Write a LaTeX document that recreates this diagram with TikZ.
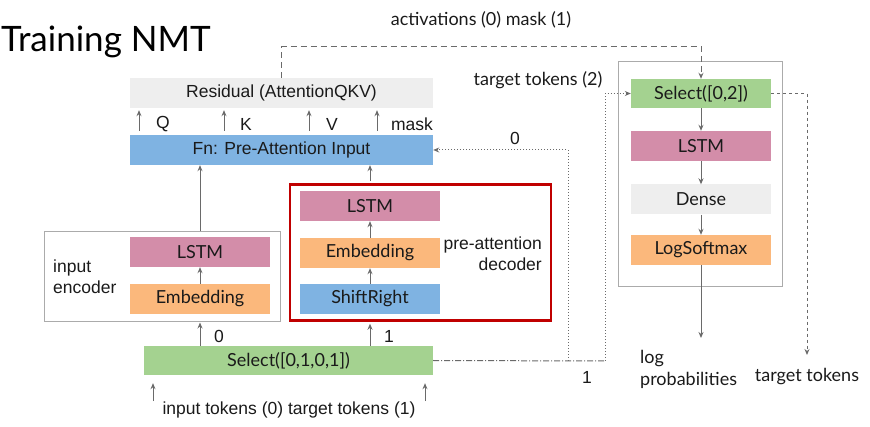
\documentclass[tikz,border=0pt]{standalone}
\usepackage{fontspec}
\setmainfont{Lato}
\newfontfamily\ar{Liberation Sans}
\usetikzlibrary{arrows.meta,calc}
\definecolor{cgray}{HTML}{EEEEEE}
\definecolor{cblue}{HTML}{7FB3E2}
\definecolor{cpink}{HTML}{D38DA9}
\definecolor{corange}{HTML}{FBB87C}
\definecolor{cgreen}{HTML}{A4D290}
\definecolor{cred}{HTML}{C00000}
\definecolor{cline}{HTML}{6A6A6A}
\definecolor{ctext}{HTML}{1A1A1A}
\newcommand\arf{\ar\fontsize{17.5}{21}\selectfont}
\newcommand\laf{\fontsize{18}{22}\selectfont}
\tikzset{
  blk/.style={minimum width=140pt,minimum height=30pt,inner sep=0pt,text=ctext,font=\laf},
  wide/.style={blk,minimum width=303pt},
  frame/.style={draw=black!33,line width=1pt,inner sep=0pt},
  arr/.style={draw=cline,line width=1pt,-{Stealth[length=6pt,width=5pt]}},
  lbl/.style={text=ctext,inner sep=0pt,font=\laf},
  albl/.style={text=ctext,inner sep=0pt,font=\arf},
}
\begin{document}
\begin{tikzpicture}[x=1pt,y=1pt]
\useasboundingbox (0,0) rectangle (870,-427);
% title
\node[anchor=west,text=black,inner sep=0pt,font=\fontsize{35}{40}\selectfont] (title) at (1,-42) {Training NMT};
% attention part
\node[wide,fill=cgray,font=\arf] (res) at (281.5,-93) {Residual (AttentionQKV)};
\node[wide,fill=cblue,font=\arf] (fn) at (281.5,-150) {Fn: Pre-Attention Input};
\coordinate (qx) at (139,0);
\coordinate (kx) at (224,0);
\coordinate (vx) at (309,0);
\coordinate (mx) at (377,0);
\foreach \c in {qx,kx,vx,mx}{
  \draw[arr,shorten <=4pt,shorten >=2pt] (fn.north -| \c) -- (res.south -| \c);
}
\node[albl] (lq) at (163,-124) {Q};
\node[albl] (lk) at (246,-124) {K};
\node[albl] (lv) at (332,-124) {V};
\node[albl] (lm) at (412,-124) {mask};
% input encoder
\node[frame,minimum width=236pt,minimum height=90pt] (encbox) at (162,-277) {};
\node[blk,fill=cpink] (encL) at (200,-252) {LSTM};
\node[blk,fill=corange] (encE) at (200,-299) {Embedding};
\node[albl,align=left,anchor=west] (encl) at (53,-277) {input\\encoder};
\draw[arr] (encE) -- (encL);
% pre-attention decoder
\node[draw=cred,line width=2.5pt,minimum width=261pt,minimum height=136pt,inner sep=0pt] (red) at (420.5,-252.5) {};
\node[blk,fill=cpink] (decL) at (370,-206) {LSTM};
\node[blk,fill=corange] (decE) at (370,-253) {Embedding};
\node[blk,fill=cblue] (shift) at (370,-299) {ShiftRight};
\node[albl,align=right,anchor=east] (decl) at (542,-254) {pre-attention\\decoder};
\draw[arr] (shift) -- (decE);
\draw[arr] (decE) -- (decL);
% into Fn
\draw[arr] (encbox.north -| encL) -- (fn.south -| encL);
\draw[arr,shorten <=2pt] (red.north -| decL) -- (fn.south -| decL);
% select
\node[blk,fill=cgreen,minimum width=289pt,minimum height=29pt] (sel) at (288.5,-360.5) {Select([0,1,0,1])};
\draw[arr] (sel.north -| encL) -- (encbox.south -| encL);
\draw[arr,shorten >=2pt] (sel.north -| decL) -- (red.south -| decL);
\node[albl] (l0) at (219,-336) {0};
\node[albl] (l1) at (389,-336) {1};
\coordinate (in0) at (153,-401);
\coordinate (in1) at (425,-401);
\draw[arr,shorten >=8pt] (in0) -- (in0 |- sel.south);
\draw[arr,shorten >=8pt] (in1) -- (in1 |- sel.south);
\node[albl] (inl) at (289,-410) {input tokens (0) target tokens (1)};
% right panel
\node[frame,minimum width=164pt,minimum height=225pt] (rbox) at (700,-174.5) {};
\node[blk,fill=cgreen,minimum height=29pt] (s02) at (701,-93.5) {Select([0,2])};
\node[blk,fill=cpink] (rL) at (701,-146) {LSTM};
\node[blk,fill=cgray] (dense) at (701,-199.5) {Dense};
\node[blk,fill=corange] (lsm) at (701,-250) {LogSoftmax};
\draw[arr] (s02) -- (rL);
\draw[arr] (rL) -- (dense);
\draw[arr] (dense) -- (lsm);
\coordinate (lpend) at (701,-338);
\draw[arr] (lsm) -- (lpend);
\node[lbl,align=left,anchor=west] (lp) at (640,-369) {log\\probabilities};
% dashed activations
\draw[arr,dash pattern=on 6pt off 4pt] (res.north) -- ++(0,31) coordinate (acttop) -| (s02.north);
\node[lbl] (actl) at (481,-20) {activations (0) mask (1)};
\node[lbl] (ttl2) at (538,-80) {target tokens (2)};
% target tokens out
\coordinate (ttend) at (807,-355);
\draw[arr,dash pattern=on 3pt off 3pt] (s02.east) -| (ttend);
\node[lbl] (ttl) at (807,-377) {target tokens};
% select outputs
\coordinate (j0) at (568,-361);
\coordinate (j1) at (605,-361);
\draw[draw=cline,line width=1pt,dash pattern=on 6pt off 2pt on 1pt off 2pt] (sel.east) -- (j1);
\draw[arr,dash pattern=on 1pt off 2pt] (j0) |- (fn.east);
\draw[arr,dash pattern=on 1pt off 2pt] (j1) |- (s02.west);
\node[albl] (lz) at (515,-138) {0};
\node[albl] (lo) at (587,-377) {1};
\end{tikzpicture}
\end{document}
